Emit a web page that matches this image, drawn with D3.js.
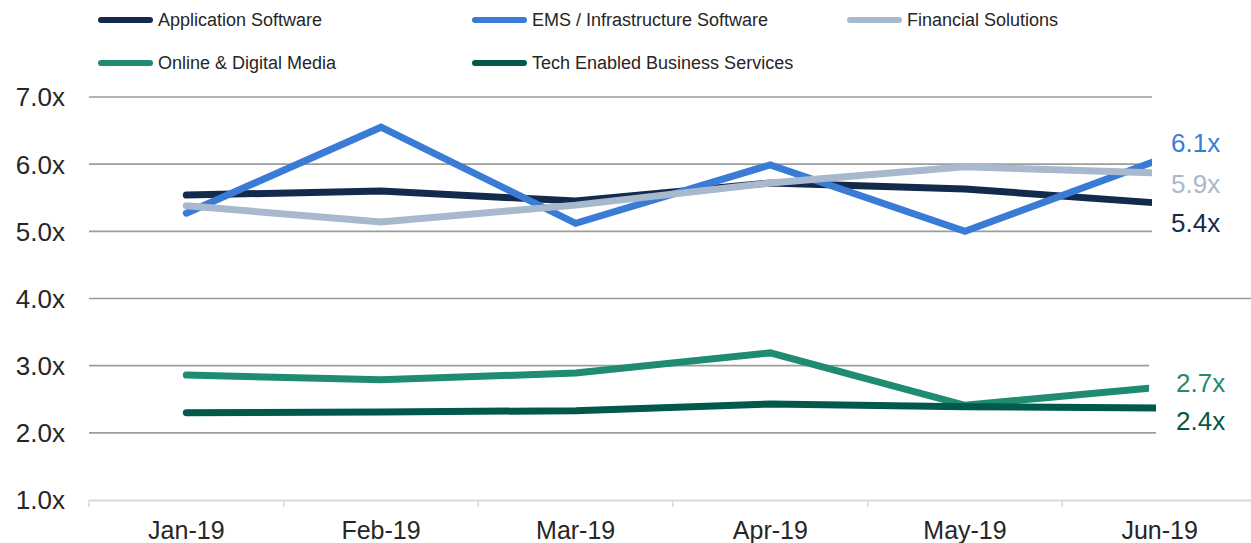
<!DOCTYPE html>
<html>
<head>
<meta charset="utf-8">
<script src="https://cdn.jsdelivr.net/npm/d3@7"></script>
<style>
  body { margin: 0; background: #fff; }
  svg { display: block; font-family: "Liberation Sans", Arial, sans-serif; }
</style>
</head>
<body>
<div id="app"></div>
<script>
const WIDTH = 1251
const HEIGHT = 543

const months = ['Jan-19', 'Feb-19', 'Mar-19', 'Apr-19', 'May-19', 'Jun-19']
const yTicks = [1, 2, 3, 4, 5, 6, 7]

const seriesNames = [
  'Application Software',
  'EMS / Infrastructure Software',
  'Financial Solutions',
  'Online & Digital Media',
  'Tech Enabled Business Services'
]
const appSoftware = [5.54, 5.60, 5.45, 5.72, 5.63, 5.42]
const emsSoftware = [5.27, 6.55, 5.12, 5.99, 5.00, 6.07]
const financial = [5.38, 5.14, 5.39, 5.72, 5.96, 5.87]
const onlineMedia = [2.86, 2.79, 2.89, 3.19, 2.41, 2.68]
const techServices = [2.30, 2.31, 2.33, 2.43, 2.39, 2.37]
const endLabels = ['5.4x', '6.1x', '5.9x', '2.7x', '2.4x']

const colors = ['#142a4c', '#3a7bd5', '#a8b8cd', '#1f8b70', '#00594a']

const seriesValues = [appSoftware, emsSoftware, financial, onlineMedia, techServices]
const series = seriesNames.map((name, i) => ({ name, values: seriesValues[i], color: colors[i], label: endLabels[i] }))

const x = d3.scaleBand()
  .domain(months)
  .range([89, 1257])

const y = d3.scaleLinear()
  .domain([1, 7])
  .range([500, 97])

const svg = d3.select('#app').append('svg')
  .attr('width', WIDTH)
  .attr('height', HEIGHT)

// gridlines
svg.append('g')
  .selectAll('line')
  .data(yTicks.filter(d => d > 1))
  .enter().append('line')
  .attr('x1', 89)
  .attr('x2', WIDTH)
  .attr('y1', d => y(d))
  .attr('y2', d => y(d))
  .attr('stroke', '#9c9c9c')
  .attr('stroke-width', 1.6)

// x axis
const xAxis = d3.axisBottom(x).tickSize(0).tickFormat('')
const gx = svg.append('g')
  .attr('transform', 'translate(0,' + y(1) + ')')
  .call(xAxis)
gx.select('.domain').attr('stroke', '#d9d9d9').attr('stroke-width', 2)
gx.selectAll('.sep')
  .data(months)
  .enter().append('line')
  .attr('class', 'sep')
  .attr('x1', d => x(d))
  .attr('x2', d => x(d))
  .attr('y1', 0)
  .attr('y2', 7)
  .attr('stroke', '#d9d9d9')
  .attr('stroke-width', 1.5)

svg.append('g')
  .selectAll('text')
  .data(months)
  .enter().append('text')
  .attr('x', d => x(d) + x.bandwidth() / 2)
  .attr('y', 539)
  .attr('text-anchor', 'middle')
  .attr('font-size', 25)
  .attr('fill', '#262626')
  .text(d => d)

// y labels
svg.append('g')
  .selectAll('text')
  .data(yTicks)
  .enter().append('text')
  .attr('x', 65)
  .attr('y', d => y(d))
  .attr('dy', '0.36em')
  .attr('text-anchor', 'end')
  .attr('font-size', 26)
  .attr('fill', '#262626')
  .text(d => d.toFixed(1) + 'x')

// lines
const line = d3.line()
  .x((d, i) => x(months[i]) + x.bandwidth() / 2)
  .y(d => y(d))

svg.append('g')
  .selectAll('path')
  .data(series)
  .enter().append('path')
  .attr('d', d => line(d.values))
  .attr('fill', 'none')
  .attr('stroke', d => d.color)
  .attr('stroke-width', 7)
  .attr('stroke-linecap', 'round')
  .attr('stroke-linejoin', 'miter')

// label boxes (cover line ends and grid like the data label boxes)
svg.append('rect')
  .attr('x', 1152).attr('y', y(7) - 6)
  .attr('width', WIDTH - 1152).attr('height', y(5) - y(7) + 12)
  .attr('fill', '#fff')
svg.append('rect')
  .attr('x', 1149).attr('y', y(3) - 6)
  .attr('width', WIDTH - 1149).attr('height', y(2.55) - y(3) + 6)
  .attr('fill', '#fff')
svg.append('rect')
  .attr('x', 1156).attr('y', y(2.55))
  .attr('width', WIDTH - 1156).attr('height', y(2) - y(2.55) + 5)
  .attr('fill', '#fff')

// end labels
const labelDy = [20, -17, 11, -5, 13]
svg.append('g')
  .selectAll('text')
  .data(series)
  .enter().append('text')
  .attr('x', (d, i) => i >= 3 ? 1176 : 1171)
  .attr('y', (d, i) => y(d.values[d.values.length - 1]) + labelDy[i])
  .attr('dy', '0.36em')
  .attr('font-size', 26)
  .attr('fill', d => d.color)
  .text(d => d.label)

// legend
const legendPos = [[98, 20], [472, 20], [847, 20], [98, 63], [472, 63]]
const legend = svg.append('g')
  .selectAll('g')
  .data(series)
  .enter().append('g')
  .attr('transform', (d, i) => 'translate(' + legendPos[i][0] + ',' + legendPos[i][1] + ')')

legend.append('line')
  .attr('x1', 3).attr('x2', 52)
  .attr('y1', 0).attr('y2', 0)
  .attr('stroke', d => d.color)
  .attr('stroke-width', 6)
  .attr('stroke-linecap', 'round')

legend.append('text')
  .attr('x', 60)
  .attr('dy', '0.36em')
  .attr('font-size', 18)
  .attr('fill', '#262626')
  .text(d => d.name)
</script>
</body>
</html>
